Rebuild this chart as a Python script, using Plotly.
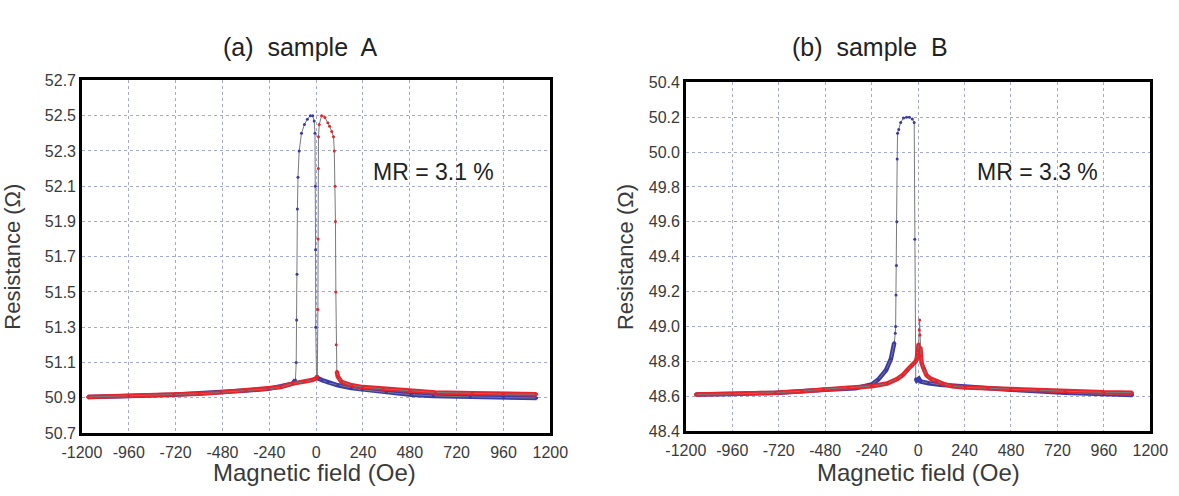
import plotly.graph_objects as go

W, H = 1179, 496

# ---------------- data ----------------
# Sample A, sweep from + to - field (blue)
a_blue_field = [1130, 960, 790, 600, 486, 360, 236, 180, 111, 60, 30, 10, 2, -2, -3, -4, -6, -10,
                -18, -30, -45, -60, -75, -87, -93, -96, -98, -100, -102, -106, -121, -180, -246,
                -360, -487, -729, -960, -1170]
a_blue_res = [50.898, 50.90, 50.904, 50.91, 50.917, 50.93, 50.944, 50.955, 50.97, 50.985, 51.0, 51.01,
              51.02, 51.3, 51.74, 52.1, 52.4, 52.47, 52.5, 52.5, 52.48, 52.45, 52.4, 52.3, 52.15,
              51.97, 51.6, 51.34, 51.1, 51.0, 50.98, 50.965, 50.95, 50.94, 50.93, 50.917, 50.91,
              50.904]
# Sample A, sweep from - to + field (red)
a_red_field = [-1170, -960, -729, -600, -487, -360, -246, -180, -121, -60, -20, 0, 6, 9, 10, 11, 12,
               16, 28, 45, 60, 69, 80, 89, 93, 97, 99, 101, 103, 106, 111, 130, 182, 240, 343, 480,
               611, 800, 960, 1130]
a_red_res = [50.904, 50.91, 50.917, 50.922, 50.93, 50.94, 50.95, 50.96, 50.98, 50.99, 51.0, 51.01,
             51.02, 51.4, 51.8, 52.2, 52.38, 52.45, 52.5, 52.49, 52.46, 52.44, 52.41, 52.38, 52.3,
             52.1, 51.9, 51.5, 51.2, 51.05, 51.02, 50.99, 50.97, 50.96, 50.95, 50.94, 50.93, 50.925,
             50.92, 50.92]

# Sample B, sweep from + to - field (blue)
b_blue_field = [1108, 960, 760, 478, 360, 234, 114, 54, 13, 4, -7, -12, -17, -20, -30, -45, -60,
                -75, -90, -100, -106, -108, -110, -112, -114, -116, -118, -123, -140, -165, -206,
                -240, -323, -480, -720, -960, -1150]
b_blue_res = [48.606, 48.61, 48.62, 48.637, 48.645, 48.652, 48.665, 48.674, 48.684, 48.70, 48.69,
              48.70, 49.5, 50.17, 50.19, 50.2, 50.2, 50.196, 50.17, 50.13, 50.108, 49.96, 49.6,
              49.35, 49.18, 49.0, 48.96, 48.907, 48.815, 48.75, 48.695, 48.667, 48.645, 48.637,
              48.62, 48.612, 48.61]
# Sample B, sweep from - to + field (red)
b_red_field = [-1150, -960, -739, -600, -489, -360, -240, -160, -106, -80, -56, -35, -23, -12, -7,
               -3, 0, 3, 6, 8, 10, 12, 14, 18, 28, 43, 65, 93, 130, 176, 243, 360, 478, 620, 760,
               960, 1108]
b_red_res = [48.61, 48.612, 48.62, 48.628, 48.64, 48.648, 48.657, 48.672, 48.70, 48.72, 48.75,
             48.77, 48.787, 48.80, 48.815, 48.84, 48.86, 48.9, 48.98, 49.036, 48.95, 48.88, 48.83,
             48.79, 48.76, 48.72, 48.70, 48.686, 48.67, 48.657, 48.65, 48.645, 48.64, 48.632,
             48.628, 48.622, 48.62]

panel_titles = ["(a)\u00a0 sample\u00a0 A", "(b)\u00a0 sample\u00a0 B"]
mr_labels = ["MR = 3.1 %", "MR = 3.3 %"]
x_ticks = [-1200, -960, -720, -480, -240, 0, 240, 480, 720, 960, 1200]
x_tick_text = ["-1200", "-960", "-720", "-480", "-240", "0", "240", "480", "720", "960", "1200"]
a_range = [50.7, 52.7]
b_range = [48.4, 50.4]

BLUE = "#3a3aa8"
RED = "#e8232b"
GRAY = "#7a7a7a"
FONT = "Liberation Sans, Arial, sans-serif"
TXT = "#3a3a3a"

fig = go.Figure()


def add_branch(xref, yref, field, res, color, thr):
    band = [r if r < thr else None for r in res]
    fig.add_trace(go.Scatter(x=field, y=band, mode="lines", xaxis=xref, yaxis=yref,
                             line=dict(color=color, width=4.5), connectgaps=False,
                             showlegend=False, hoverinfo="skip"))
    fig.add_trace(go.Scatter(x=field, y=res, mode="lines+markers", xaxis=xref, yaxis=yref,
                             line=dict(color=GRAY, width=1),
                             marker=dict(color=color, size=3),
                             showlegend=False))


add_branch("x", "y", a_blue_field, a_blue_res, BLUE, 51.06)
add_branch("x", "y", a_red_field, a_red_res, RED, 51.06)
add_branch("x2", "y2", b_blue_field, b_blue_res, BLUE, 48.92)
add_branch("x2", "y2", b_red_field, b_red_res, RED, 48.92)


def px_x(p):
    return p / W


def px_y(p):
    return 1 - p / H


axis_common = dict(showline=True, mirror=True, linecolor="black", linewidth=2.5,
                   showgrid=True, gridcolor="#a4a9d4", gridwidth=1, griddash="3px,3px",
                   zeroline=False, ticks="", color=TXT,
                   tickfont=dict(family=FONT, size=16, color=TXT))

fig.update_layout(
    width=W, height=H, margin=dict(l=0, r=0, t=0, b=0),
    paper_bgcolor="white", plot_bgcolor="white",
    xaxis=dict(domain=[px_x(64), px_x(548)], range=[-1200, 1200], tickvals=x_ticks,
               ticktext=x_tick_text, ticklabelstandoff=3, anchor="y", **axis_common),
    yaxis=dict(domain=[px_y(440), px_y(75)], range=a_range, dtick=0.2, tick0=50.7,
               tickformat=".1f", anchor="x",
               title=dict(text="Resistance (Ω)", standoff=24,
                          font=dict(family=FONT, size=22, color=TXT)),
               automargin=False, **axis_common),
    xaxis2=dict(domain=[px_x(688), px_x(1168)], range=[-1200, 1200], tickvals=x_ticks,
                ticktext=x_tick_text, ticklabelstandoff=3, anchor="y2", **axis_common),
    yaxis2=dict(domain=[px_y(438), px_y(77)], range=b_range, dtick=0.2, tick0=48.4,
                tickformat=".1f", anchor="x2", **axis_common),
)

ann = []
for cx, t in zip([290, 878], panel_titles):
    ann.append(dict(x=px_x(cx), y=px_y(40), xref="paper", yref="paper", text=t,
                    showarrow=False, xanchor="center", yanchor="middle",
                    font=dict(family=FONT, size=25, color="#222222")))
for cx in [304, 928]:
    ann.append(dict(x=px_x(cx), y=px_y(481), xref="paper", yref="paper",
                    text="Magnetic field (Oe)", showarrow=False, xanchor="center",
                    yanchor="middle", font=dict(family=FONT, size=24, color=TXT)))
ann.append(dict(x=px_x(625), y=px_y(258), xref="paper", yref="paper",
                text="Resistance (Ω)", textangle=-90, showarrow=False,
                xanchor="center", yanchor="middle",
                font=dict(family=FONT, size=22, color=TXT)))
for cx, t in zip([427, 1051], mr_labels):
    ann.append(dict(x=px_x(cx), y=px_y(170), xref="paper", yref="paper", text=t,
                    showarrow=False, xanchor="center", yanchor="middle",
                    font=dict(family=FONT, size=23, color="#222222")))
fig.update_layout(annotations=ann)

fig.write_html("out.html")
